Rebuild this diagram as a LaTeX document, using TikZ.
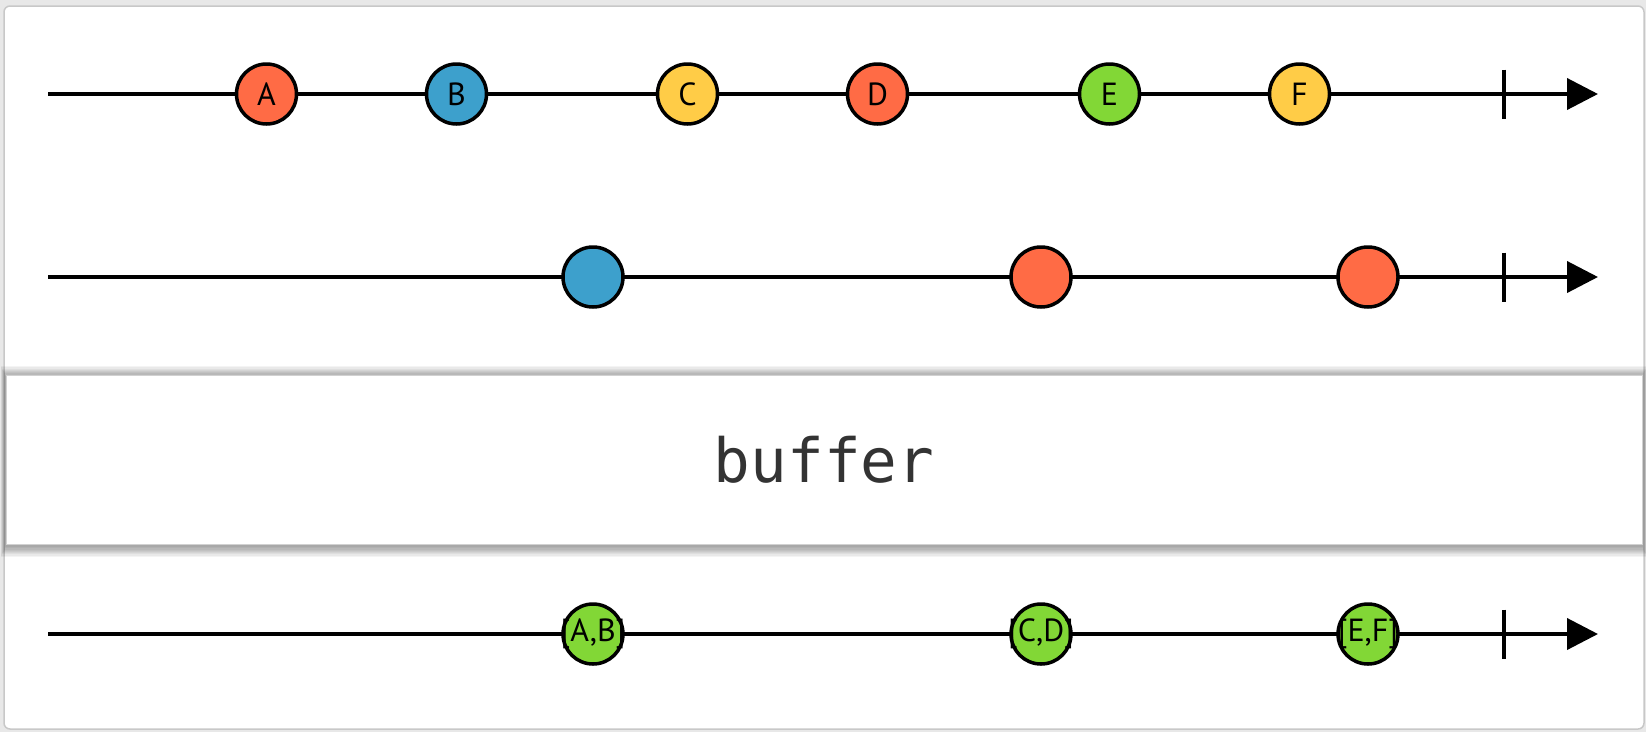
\documentclass[tikz,border=0pt]{standalone}
\usepackage{fontspec}
\newfontfamily\lblfont{PT Sans}
\newfontfamily\monofont{DejaVu Sans Mono}
\usetikzlibrary{arrows.meta}
\definecolor{mred}{HTML}{FF6B45}
\definecolor{mblue}{HTML}{3DA0CC}
\definecolor{myellow}{HTML}{FFCC47}
\definecolor{mgreen}{HTML}{82D736}
\definecolor{bggrey}{HTML}{E8E8E8}
\definecolor{framegrey}{HTML}{C8C8C8}
\definecolor{txtgrey}{HTML}{333333}
\tikzset{
  timeline/.style={line width=4pt, draw=black, -{Triangle[length=31pt,width=31pt]}},
  endtick/.style={line width=3.5pt, draw=black},
  marble/.style={circle, draw=black, line width=3.5pt, minimum size=60pt, inner sep=0pt},
  lbl/.style={font=\lblfont\fontsize{32}{32}\selectfont, text=black, inner sep=0pt},
  opbox/.style={draw=black!18, line width=1pt, fill=white},
  softshadow/.style={fill=black, fill opacity=0.045, draw=none},
}
\begin{document}
\begin{tikzpicture}[x=1pt,y=-1pt]
\useasboundingbox (0,0) rectangle (1646,732);
\fill[bggrey] (0,0) rectangle (1646,732);
\draw[framegrey, fill=white, line width=1.5pt, rounded corners=6pt] (4,6) rectangle (1644,729);
% operator box with soft shadow
\foreach \i in {1,...,9} {
  \fill[softshadow] (6-\i*0.6,375-\i*1.2+2) rectangle (1642+\i*0.6,544+\i*1.2+2);
}
\node[opbox, minimum width=1636pt, minimum height=169pt, inner sep=0pt] (op) at (824,459.5) {};
\node[font=\monofont\fontsize{61}{61}\selectfont, text=txtgrey] (optext) at (op.center) {buffer};
% timelines
\coordinate (s1) at (48,94);   \coordinate (e1) at (1598,94);
\coordinate (s2) at (48,277);  \coordinate (e2) at (1598,277);
\coordinate (s3) at (48,634);  \coordinate (e3) at (1598,634);
\draw[timeline] (s1) -- (e1);
\draw[timeline] (s2) -- (e2);
\draw[timeline] (s3) -- (e3);
\coordinate (t1a) at (1504,69.5); \coordinate (t1b) at (1504,118.5);
\coordinate (t2a) at (1504,252.5); \coordinate (t2b) at (1504,301.5);
\coordinate (t3a) at (1504,609.5); \coordinate (t3b) at (1504,658.5);
\draw[endtick] (t1a) -- (t1b);
\draw[endtick] (t2a) -- (t2b);
\draw[endtick] (t3a) -- (t3b);
% input marbles
\node[marble, fill=mred] (a) at (266.5,94) {};
\node[marble, fill=mblue] (b) at (456.5,94) {};
\node[marble, fill=myellow] (c) at (687.5,94) {};
\node[marble, fill=mred] (d) at (877.5,94) {};
\node[marble, fill=mgreen] (e) at (1109.5,94) {};
\node[marble, fill=myellow] (f) at (1299.5,94) {};
\node[lbl] at (a) {A};
\node[lbl] at (b) {B};
\node[lbl] at (c) {C};
\node[lbl] at (d) {D};
\node[lbl] at (e) {E};
\node[lbl] at (f) {F};
% second row
\node[marble, fill=mblue] (m1) at (593,277) {};
\node[marble, fill=mred] (m2) at (1041,277) {};
\node[marble, fill=mred] (m3) at (1368,277) {};
% output marbles
\node[marble, fill=mgreen] (o1) at (593,634) {};
\node[marble, fill=mgreen] (o2) at (1041,634) {};
\node[marble, fill=mgreen] (o3) at (1368,634) {};
\node[lbl] at (o1) {[A,B]};
\node[lbl] at (o2) {[C,D]};
\node[lbl] at (o3) {[E,F]};
\end{tikzpicture}
\end{document}
